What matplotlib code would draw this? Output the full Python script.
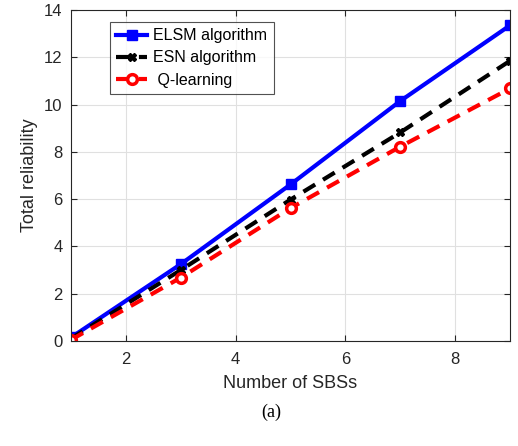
import matplotlib

matplotlib.use("Agg")
import matplotlib.pyplot as plt

sbs = [1, 3, 5, 7, 9]
elsm = [0.15, 3.25, 6.62, 10.15, 13.35]
esn = [0.1, 3.0, 5.98, 8.82, 11.85]
qlearn = [0.05, 2.68, 5.62, 8.22, 10.68]

plt.rcParams["font.family"] = ["Liberation Sans", "DejaVu Sans"]

fig = plt.figure(figsize=(5.18, 4.46), dpi=100)
ax = fig.add_axes([71 / 518, 1 - 341 / 446, 439 / 518, 331 / 446])

ax.plot(sbs, elsm, color="#0000ff", lw=3, marker="s", ms=7, label="ELSM algorithm")
ax.plot(sbs, esn, color="black", lw=3, ls=(0, (3.3, 2.2)), marker="X", ms=6,
        label="ESN algorithm")
ax.plot(sbs, qlearn, color="#ff0000", lw=3, ls=(0, (3.3, 2.2)), marker="o", ms=7,
        mfc="white", mew=2.5, label=" Q-learning")

ax.set_xlim(1, 9)
ax.set_ylim(0, 14)
ax.set_xticks([2, 4, 6, 8])
ax.set_yticks(range(0, 15, 2))
ax.tick_params(direction="in", labelsize=12, top=True, right=True, length=4,
               colors="#262626")
ax.tick_params(axis="x", pad=8)
ax.tick_params(axis="y", pad=6)
ax.grid(color="#e0e0e0", lw=0.8)
ax.set_axisbelow(True)
for s in ax.spines.values():
    s.set_color("#262626")
ax.set_xlabel("Number of SBSs", fontsize=13, color="#262626", labelpad=6)
ax.set_ylabel("Total reliability", fontsize=13, color="#262626")

leg = ax.legend(loc="upper left", bbox_to_anchor=(0.089, 0.964), fontsize=11.5,
                fancybox=False, edgecolor="#262626", handlelength=1.9,
                borderpad=0.4, labelspacing=0.45, handletextpad=0.4,
                borderaxespad=0)
leg.get_frame().set_linewidth(0.8)

fig.text(271 / 518, 1 - 412 / 446, "(a)", family="Liberation Serif", fontsize=13,
         ha="center", va="center")

fig.savefig("out.png", dpi=100)
